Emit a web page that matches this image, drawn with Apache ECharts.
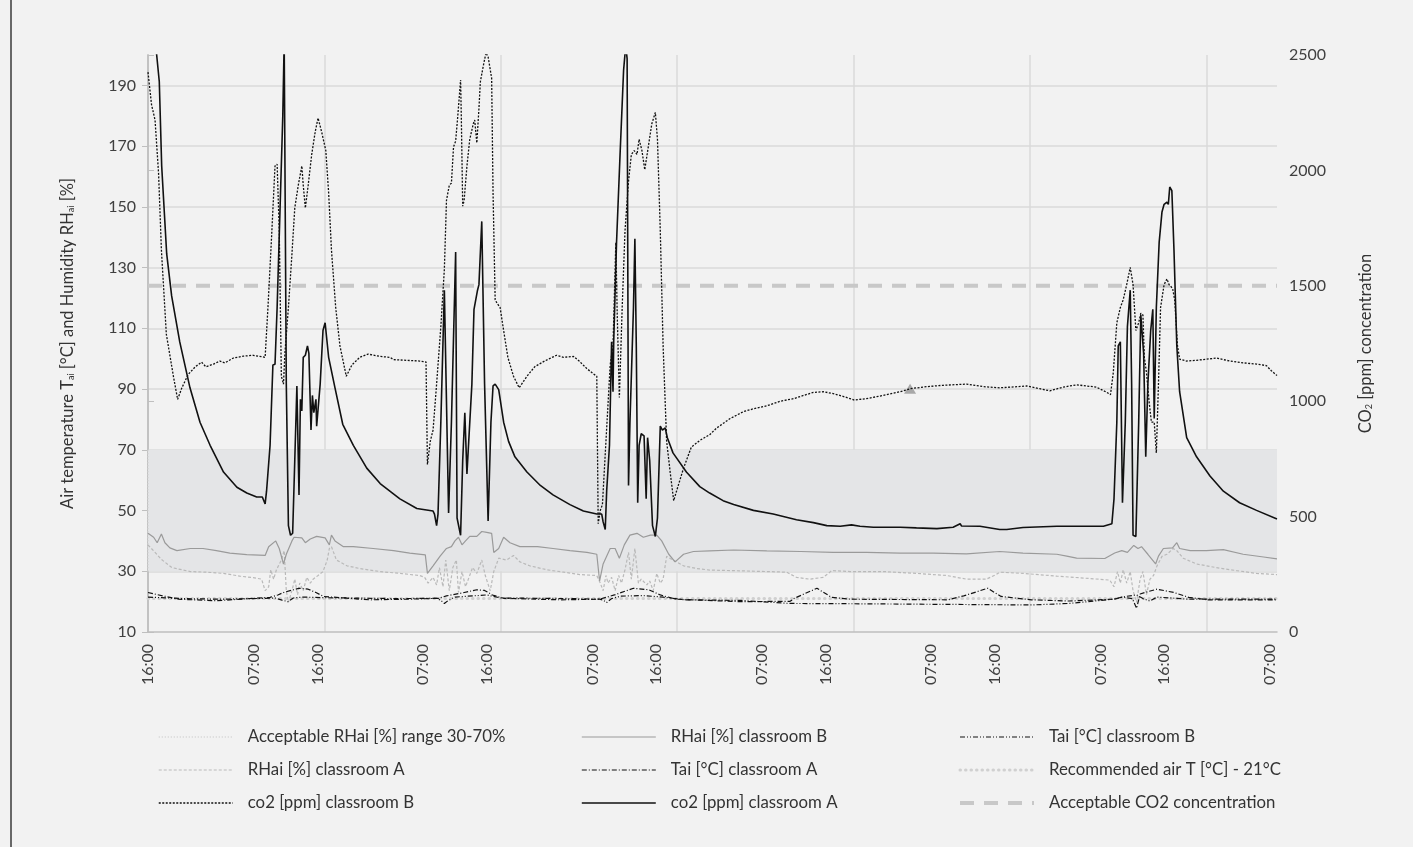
<!DOCTYPE html>
<html>
<head>
<meta charset="utf-8">
<script src="https://cdn.jsdelivr.net/npm/echarts@6/dist/echarts.min.js"></script>
<style>
html, body { margin: 0; background: #f2f2f2; }
#chart { width: 1413px; height: 847px; }
</style>
</head>
<body>
<div id="chart"></div>
<script>
// x = hours since the first 16:00 reading
const labelHours = [0, 15, 24, 39, 48, 63, 72, 87, 96, 111, 120, 135, 144, 159];
const labelText = ['16:00', '07:00', '16:00', '07:00', '16:00', '07:00', '16:00',
                   '07:00', '16:00', '07:00', '16:00', '07:00', '16:00', '07:00'];

// co2 [ppm] (right axis)
const co2A = [[0,2850],[1.23,2500],[1.6,2384],[1.94,2019],[2.65,1638],[3.35,1456],[4.5,1257],[5.95,1058],[7.37,909],[8.8,809],[10.7,693],[12.6,627],[14,602],[15.4,585],[16.2,585],[16.6,555],[16.8,610],[17.3,809],[17.7,1157],[18,1160],[18.3,1406],[18.7,1820],[19.1,2235],[19.3,2560],[19.6,1074],[19.9,461],[20.2,419],[20.5,428],[20.8,743],[21.1,1066],[21.4,594],[21.6,1008],[21.8,958],[22,1190],[22.3,1199],[22.6,1240],[22.8,1207],[23.1,875],[23.3,1025],[23.5,950],[23.8,1008],[23.9,892],[24.1,884],[24.4,1074],[24.8,1306],[25.1,1340],[25.6,1190],[26.5,1058],[27.6,900],[29.1,809],[31,710],[32.9,643],[35.7,577],[38.1,535],[40.4,524],[40.6,511],[40.9,461],[41.1,511],[41.5,909],[42,1481],[42.6,516],[43,909],[43.6,1646],[43.8,494],[44.3,419],[44.6,743],[44.9,950],[45.2,685],[45.4,685],[45.9,1074],[46.2,1398],[46.7,1481],[46.9,1505],[47.3,1779],[47.7,1074],[48.2,481],[48.6,909],[48.9,1066],[49.2,1074],[49.7,1050],[50.4,909],[51.1,826],[52,759],[53.7,693],[55.6,635],[57.4,594],[59.8,552],[61.7,524],[63.6,511],[64.3,511],[64.5,477],[64.8,444],[65,610],[65.4,809],[65.7,1257],[65.9,1041],[66,1257],[66.4,1688],[66.9,2069],[67.4,2434],[67.7,2540],[67.9,2484],[68.1,635],[68.3,909],[68.8,1406],[69,1704],[69.2,1240],[69.4,560],[69.6,809],[69.9,859],[70.3,850],[70.6,577],[70.8,842],[71.1,743],[71.5,461],[71.9,414],[72.2,494],[72.6,892],[72.9,875],[73.3,884],[73.6,842],[74.4,776],[76.3,693],[78.2,630],[79.6,602],[81.5,569],[83,552],[85.8,527],[88.6,511],[91.9,486],[94.3,474],[96.2,461],[98.1,458],[99.7,464],[100.9,458],[102.8,454],[106.6,454],[108.9,451],[111.8,448],[114.1,454],[115.1,469],[115.3,459],[117.9,458],[120.7,444],[121.7,444],[124,453],[128.8,458],[133.5,458],[135.4,458],[136.6,469],[136.9,577],[137.3,909],[137.5,1240],[137.8,1257],[138.1,560],[138.5,909],[138.8,1323],[139.2,1481],[139.4,1074],[139.6,419],[140,414],[140.4,909],[140.7,1373],[141.1,1207],[141.4,759],[141.7,1074],[142.1,1306],[142.4,1398],[142.6,925],[142.9,1406],[143.3,1688],[143.7,1820],[144,1853],[144.4,1862],[144.6,1853],[144.8,1928],[145.1,1912],[145.4,1655],[145.8,1240],[146.2,1041],[147.2,842],[148.6,759],[150.5,676],[152.4,610],[154.7,560],[157.1,527],[160,490]];

const co2B = [[0,2426],[0.5,2285],[1,2218],[1.5,1986],[1.9,1655],[2.6,1290],[3.6,1108],[4.2,1008],[4.8,1058],[5.7,1116],[6.7,1149],[7.6,1169],[8.2,1149],[9.3,1161],[10.2,1174],[10.9,1166],[12.1,1187],[13.5,1195],[14.9,1199],[16.6,1190],[17,1406],[17.5,1704],[18,2019],[18.3,2027],[18.6,1738],[18.9,1108],[19.2,1074],[19.4,1207],[19.9,1406],[20.4,1638],[20.8,1837],[21.3,1936],[21.8,2019],[22,1936],[22.3,1837],[22.7,1936],[23.2,2069],[23.7,2168],[24.1,2227],[24.6,2168],[25.2,2086],[25.6,1903],[26,1655],[26.6,1406],[27.2,1240],[28.1,1108],[28.9,1157],[30,1190],[31.2,1204],[32.9,1194],[34.3,1190],[34.8,1180],[36.7,1177],[38.5,1174],[39.4,1170],[39.6,726],[40,826],[40.4,875],[40.9,1074],[41.5,1323],[42,1572],[42.3,1870],[42.7,1936],[43,1945],[43.3,2102],[43.6,2127],[43.9,2235],[44.3,2392],[44.4,2235],[44.6,1845],[44.8,1870],[45.2,2019],[45.6,2135],[46.1,2202],[46.3,2218],[46.6,2119],[46.9,2268],[47.1,2384],[47.5,2450],[47.9,2510],[48.2,2492],[48.7,2400],[48.9,1903],[49.2,1439],[49.5,1423],[49.9,1406],[50.4,1306],[51,1190],[51.8,1108],[52.6,1058],[53.7,1108],[54.8,1149],[56.2,1174],[57.9,1199],[58.9,1190],[60.3,1194],[61.1,1174],[62.2,1141],[63.1,1119],[63.6,1108],[63.8,469],[64.1,527],[64.4,552],[64.9,826],[65.5,1157],[65.9,1240],[66.3,1688],[66.5,1373],[66.8,1016],[67.2,1406],[67.6,1738],[68.1,1953],[68.5,2069],[68.9,2086],[69.3,2069],[69.6,2135],[70,2086],[70.4,2003],[70.9,2102],[71.4,2202],[71.9,2251],[72.2,2135],[72.6,1738],[73,1240],[73.5,826],[74,693],[74.5,569],[74.9,610],[75.9,710],[77,801],[78.2,830],[79.6,855],[80.6,884],[82.5,925],[84.4,955],[85.8,967],[87.7,980],[89.6,1000],[91.5,1011],[92.9,1025],[94.3,1038],[95.7,1041],[97.1,1033],[98.5,1021],[100.1,1005],[101.8,1011],[104.2,1025],[106.6,1041],[108,1054],[110.3,1063],[112.7,1069],[116,1074],[118.4,1063],[120.7,1058],[122.2,1061],[124.5,1066],[126.4,1054],[127.8,1045],[129.7,1061],[131.6,1071],[134.4,1061],[135.9,1038],[136.4,1028],[136.8,1124],[137.3,1340],[137.8,1406],[138.2,1439],[138.7,1505],[139.2,1580],[139.6,1505],[140,1306],[140.4,1340],[140.7,1381],[141,1373],[141.2,1190],[141.5,1124],[141.9,991],[142.2,909],[142.6,909],[142.9,776],[143.2,1074],[143.5,1406],[144,1505],[144.4,1530],[144.7,1505],[145.2,1489],[145.5,1439],[145.9,1240],[146.2,1182],[147.2,1174],[148.6,1177],[150,1182],[151.4,1187],[153.3,1174],[155.2,1166],[157.1,1161],[158.5,1154],[159.2,1132],[160,1111]];

// RHai [%] (left axis)
const rhB = [[0,42.5],[0.8,41.2],[1.3,39.4],[1.9,42.3],[2.4,39.4],[3.1,37.7],[4.1,36.8],[6,37.5],[7.8,37.5],[9.7,36.8],[11.6,36],[14,35.5],[16.6,35.2],[17.1,38.1],[18.1,40],[18.6,37.5],[19.2,32.4],[19.6,35.6],[20.4,40],[20.7,41.2],[21.8,41],[22.3,39.4],[23,40.6],[23.9,41.5],[25.1,41],[25.7,38.7],[26,41.9],[26.5,40],[27.7,38.1],[29.1,38.1],[31.9,37.5],[34.8,36.8],[37.1,36],[39.3,35.4],[39.6,29.3],[40.4,31.8],[41.4,35],[42.3,37.5],[43,38.1],[43.5,40],[44,41.2],[44.5,38.7],[45,40],[45.6,41.5],[46.6,41.5],[47.3,43.1],[48,42.8],[48.7,42.5],[49,36.2],[49.7,37.5],[50.4,41.2],[51.3,39.4],[52.7,38.1],[55.2,38.1],[57.4,37.5],[59.8,36.8],[62.2,36.2],[63.6,35.6],[64,26.8],[64.5,32.4],[65.5,37.5],[66.2,37.5],[66.8,34.3],[67.5,38.7],[68.3,41.9],[69.3,42.5],[70.2,41.2],[71.2,41.9],[72.1,41.9],[72.8,40],[73.8,35.6],[74.7,33.1],[75.9,35.6],[77.3,36.5],[79.6,36.7],[83,37],[87.7,36.7],[92.5,36.5],[97.1,36.2],[101.8,36.2],[106.6,36],[111.3,36],[116,35.7],[120.7,36.5],[124,36],[128.8,35.6],[130.2,35],[131.6,34.3],[135.6,34.2],[137,36],[138,36.8],[138.8,36.2],[139.7,38.5],[140.3,37.5],[140.8,38.1],[141.7,35.6],[142.8,32.4],[143.2,35],[143.9,37.5],[145.2,37.7],[145.8,39.4],[146.2,37.5],[147.7,36.8],[150,36.8],[152.4,37.1],[155.2,35.6],[158.1,34.7],[160,34.1]];

const rhA = [[0,38.7],[1,36.2],[1.9,33.9],[3.4,31.2],[6,29.9],[8.3,29.7],[10.7,29.3],[13,28.4],[14.9,27.9],[16.1,27.4],[16.6,23.6],[17.1,24.9],[17.4,30.5],[17.8,27.4],[18.2,30.5],[18.9,33.7],[19.3,36.8],[19.6,23.6],[19.9,19.8],[20.4,23.6],[20.8,27.4],[21.2,22.3],[21.5,26.1],[22,23.6],[22.5,28],[23,26.1],[23.4,27.4],[24.1,28.6],[24.8,29.9],[25.4,33.7],[25.7,37.5],[26,38.1],[26.7,33.7],[28.2,31.8],[30,30.9],[32.9,29.9],[35.7,29.3],[38.5,28.6],[39.2,28],[39.7,26.1],[40.4,28],[40.9,25.5],[41.3,31.2],[41.8,24.9],[42.2,33.7],[42.7,23.6],[43.2,31.2],[43.7,33.7],[44,23],[44.5,29.9],[45,24.9],[45.4,27.4],[46,31.2],[46.6,29.3],[47.3,33.7],[47.8,28.6],[48.5,23.6],[49,29.9],[49.7,34.3],[50.8,33.7],[51.8,35.2],[52.7,33.1],[54.1,31.8],[56.5,30.5],[58.9,29.7],[61.2,28.9],[63.6,28.6],[64.1,26.1],[64.5,23.6],[64.9,28.6],[65.2,26.1],[65.7,28],[66.2,23.6],[66.7,28.6],[67.1,26.1],[67.6,30.5],[68.1,36.2],[68.5,27.4],[69,37.5],[69.5,26.1],[69.9,27.4],[70.7,25.5],[71.1,26.8],[71.6,23.6],[72.1,29.3],[72.6,26.1],[73,27.4],[73.5,34.9],[74.4,33.7],[75.9,31.8],[77.8,30.9],[79.6,30.4],[83,30.2],[87.7,29.9],[90.5,29.7],[91.9,28],[93.8,27.4],[95.7,28],[96.9,30.2],[99.5,29.9],[104.2,29.9],[108.9,29.3],[113.2,28.6],[116,27.4],[118.8,27.4],[120.2,28.9],[120.7,29.7],[124,29.3],[128.8,28.4],[133.5,27.6],[136.3,27.1],[136.9,24.9],[137.4,29.9],[137.8,26.1],[138.2,30.5],[138.7,26.1],[139.2,29.9],[139.6,23.6],[140.1,19.8],[140.6,27.4],[141,29.9],[141.5,22.3],[142,27.4],[142.5,28.6],[143,31.8],[143.7,34.9],[144.4,35.6],[145.3,37.5],[145.8,36.8],[146.7,34.3],[148.6,32.4],[151.4,31.2],[154.3,30.2],[157.1,29.3],[160,28.9]];

// Tai [°C] (left axis)
const taiA = [[0,23],[2.1,21.9],[4.3,20.8],[9.7,20.3],[15.1,21.1],[17.3,21.4],[18.4,22.2],[19.2,23],[20.6,23.9],[21.4,24.4],[22.7,24.1],[23.8,23],[24.9,21.7],[31.4,20.6],[36.8,20.8],[41.2,21.1],[42.3,21.9],[44.4,22.8],[46.6,23.9],[47.7,23.7],[48.8,22.2],[50.4,21.1],[58.5,20.6],[64,20.8],[66.1,22.2],[68.8,24.4],[71,23.9],[72.6,22.2],[74.8,20.8],[83.9,20],[91,20.1],[91.6,21.1],[94.8,24.4],[96.9,21.4],[99.6,20.8],[113.4,20.6],[115.6,21.9],[119,24.4],[120.9,21.7],[125.2,20.6],[130.5,20.2],[136.9,20.8],[138,21.5],[139.5,21],[140.1,17.8],[140.6,22.5],[141.7,23.3],[143,24.1],[145.4,23],[147.5,21.4],[150.2,20.6],[160,20.6]];

const taiB = [[0,21.5],[5,21],[10,20.8],[15,21],[18,21.2],[19,20.5],[19.8,20],[20.6,21.2],[22,21.5],[25,21.3],[35,21],[41,21.1],[41.6,20.2],[42,19.4],[42.5,20.3],[43.5,21.5],[48,22.2],[50,21.2],[60,21],[64,20.8],[64.5,20.5],[65,19.7],[65.7,21],[67,21.8],[70,22],[73,21.5],[76,20.6],[84,20.4],[91,19.4],[100,19.3],[113,19.1],[125.2,18.9],[130.5,19.4],[136.9,20.8],[138.5,21.7],[140.1,22.2],[141,21],[142,20.2],[143,21.5],[147.5,20.8],[160,20.8]];

// reference levels
const rhRange = [30, 70];
const recommendedT = 21;
const acceptableCo2 = 1500;
const xMax = 160;
const triangleAt = [108, 1054];

const names = {
  band: 'Acceptable RHai [%] range 30-70%',
  rhA: 'RHai [%] classroom A',
  co2B: 'co2 [ppm] classroom B',
  rhB: 'RHai [%] classroom B',
  taiA: 'Tai [°C] classroom A',
  co2A: 'co2 [ppm] classroom A',
  taiB: 'Tai [°C] classroom B',
  recT: 'Recommended air T [°C] - 21°C',
  accCo2: 'Acceptable CO2 concentration'
};

const FONT = 'Lato';
const TXT = '#404040';
const GRID = '#dadada';
const AXIS = '#bfbfbf';

const chart = echarts.init(document.getElementById('chart'));

function legendCol(left, data) {
  return {
    orient: 'vertical',
    left: left,
    top: 722,
    itemWidth: 74,
    itemHeight: 12,
    itemGap: 13,
    selectedMode: false,
    data: data,
    // hide the centre symbol; only the line sample stays
    itemStyle: { opacity: 0 },
    lineStyle: { width: 'inherit' },
    textStyle: { fontFamily: FONT, fontSize: 16.8, color: '#333', lineHeight: 20, padding: [0, 0, 0, 10] }
  };
}

const option = {
  animation: false,
  backgroundColor: '#f2f2f2',
  grid: { left: 148, right: 136, top: 55, bottom: 215 },
  legend: [
    legendCol(153, [names.band, names.rhA, names.co2B]),
    legendCol(576, [names.rhB, names.taiA, names.co2A]),
    legendCol(953, [names.taiB, names.recT, names.accCo2])
  ],
  graphic: [{
    type: 'line', shape: { x1: 11, y1: 0, x2: 11, y2: 847 },
    style: { stroke: '#3a3a3a', lineWidth: 1.5 }, silent: true
  }],
  xAxis: [{
    type: 'value', min: 0, max: xMax, interval: 25,
    axisLine: { show: true, lineStyle: { color: AXIS, width: 1.5 } },
    axisTick: { show: false },
    axisLabel: { show: false },
    splitLine: { show: true, showMinLine: false, showMaxLine: false, lineStyle: { color: GRID, width: 1.5 } }
  }, {
    type: 'value', min: 0, max: xMax, position: 'bottom',
    axisLine: { show: false }, axisTick: { show: false }, splitLine: { show: false },
    axisLabel: {
      customValues: labelHours, rotate: 90, margin: 12,
      fontFamily: FONT, fontSize: 16, color: TXT,
      formatter: function (v) { return labelText[labelHours.indexOf(v)]; }
    }
  }],
  yAxis: [{
    type: 'value', min: 10, max: 200, interval: 20, position: 'left',
    axisLine: { show: true, lineStyle: { color: AXIS, width: 1.5 } },
    axisTick: { show: true, length: 6, lineStyle: { color: AXIS } },
    axisLabel: { showMaxLabel: false, margin: 12, fontFamily: FONT, fontSize: 16, color: TXT },
    splitLine: { show: true, showMinLine: false, showMaxLine: false, lineStyle: { color: GRID, width: 1.5 } },
    name: '{n|Air temperature T}{s|ai}{n| [°C] and Humidity RH}{s|ai}{n| [%]}',
    nameLocation: 'middle', nameRotate: 90, nameGap: 72,
    nameTextStyle: {
      rich: {
        n: { fontFamily: FONT, fontSize: 16.5, color: '#333' },
        s: { fontFamily: FONT, fontSize: 9, color: '#333', verticalAlign: 'bottom', padding: [6, 0, 0, 0] }
      }
    }
  }, {
    type: 'value', min: 0, max: 2500, interval: 500, position: 'right',
    axisLine: { show: true, lineStyle: { color: AXIS, width: 1.5 } },
    axisTick: { show: true, length: 6, lineStyle: { color: AXIS } },
    axisLabel: {
      margin: 12, fontFamily: FONT, fontSize: 16, color: TXT,
      formatter: function (v) { return String(v); }
    },
    splitLine: { show: false },
    name: '{n|CO}{s|2}{n| [ppm] concentration}',
    nameLocation: 'middle', nameRotate: 90, nameGap: 80,
    nameTextStyle: {
      rich: {
        n: { fontFamily: FONT, fontSize: 16.5, color: '#333' },
        s: { fontFamily: FONT, fontSize: 9, color: '#333', verticalAlign: 'bottom', padding: [6, 0, 0, 0] }
      }
    }
  }],
  series: [{
    name: names.band, type: 'line', symbol: 'none', z: 1,
    data: [[0, rhRange[0]], [0, rhRange[1]]],
    lineStyle: { color: '#d2d2d2', width: 1.5, type: [1, 2] },
    markArea: {
      silent: true,
      itemStyle: { color: '#e4e5e7' },
      data: [[{ xAxis: 0, yAxis: rhRange[0] }, { xAxis: xMax, yAxis: rhRange[1] }]]
    }
  }, {
    name: names.recT, type: 'line', symbol: 'none', z: 2,
    data: [[0, recommendedT], [xMax, recommendedT]],
    lineStyle: { color: '#d0d0d0', width: 3, type: [0.5, 5], cap: 'round' }
  }, {
    name: names.accCo2, type: 'line', symbol: 'none', yAxisIndex: 1, z: 2,
    data: [[0, acceptableCo2], [xMax, acceptableCo2]],
    lineStyle: { color: '#c8c8c8', width: 4, type: [14, 10] }
  }, {
    name: names.rhA, type: 'line', symbol: 'none', z: 3,
    data: rhA,
    lineStyle: { color: '#b9b9b9', width: 1.2, type: [3, 2] }
  }, {
    name: names.rhB, type: 'line', symbol: 'none', z: 3,
    data: rhB,
    lineStyle: { color: '#9a9a9a', width: 1.2, type: 'solid' }
  }, {
    name: names.taiA, type: 'line', symbol: 'none', z: 4,
    data: taiA,
    lineStyle: { color: '#111', width: 1.2, type: [5, 2, 1, 2] }
  }, {
    name: names.taiB, type: 'line', symbol: 'none', z: 4,
    data: taiB,
    lineStyle: { color: '#111', width: 1.2, type: [5, 2, 1, 2, 1, 2] }
  }, {
    name: names.co2B, type: 'line', symbol: 'none', yAxisIndex: 1, z: 5,
    data: co2B,
    lineStyle: { color: '#111', width: 1.3, type: [2, 1.5] },
    markPoint: {
      symbol: 'triangle', symbolSize: [12, 10], silent: true,
      itemStyle: { color: '#a8a8a8', opacity: 1 }, label: { show: false },
      data: [{ coord: triangleAt }]
    }
  }, {
    name: names.co2A, type: 'line', symbol: 'none', yAxisIndex: 1, z: 6,
    data: co2A,
    lineStyle: { color: '#111', width: 1.6, type: 'solid' }
  }]
};

chart.setOption(option);
</script>
</body>
</html>
